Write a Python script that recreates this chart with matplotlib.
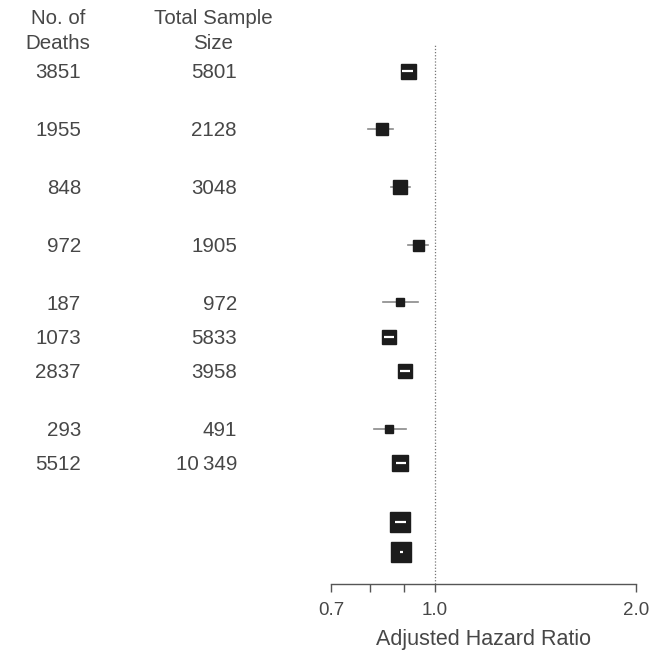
import matplotlib
matplotlib.use('Agg')
import matplotlib.pyplot as plt
from matplotlib.ticker import FixedLocator, NullFormatter
from matplotlib.transforms import blended_transform_factory

plt.rcParams['font.family'] = ['Liberation Sans', 'DejaVu Sans']

# rows: 9 studies + 2 pooled estimates
deaths = ['3851', '1955', '848', '972', '187', '1073', '2837', '293', '5512']
sample = ['5801', '2128', '3048', '1905', '972', '5833', '3958', '491', '10\u2009349']
hr = [0.911, 0.833, 0.889, 0.943, 0.889, 0.856, 0.902, 0.856, 0.889, 0.889, 0.892]
lo = [0.893, 0.796, 0.862, 0.914, 0.836, 0.838, 0.886, 0.813, 0.877, 0.872, 0.887]
hi = [0.930, 0.868, 0.920, 0.976, 0.943, 0.875, 0.918, 0.905, 0.905, 0.905, 0.897]
weight = [15, 12, 14, 11, 8, 14, 14, 8, 16, 20, 20]   # box side, px

# vertical layout of the rows (pixel rows of the figure)
row_y = [71, 129, 187, 245, 302, 337, 371, 429, 463, 522, 552]

txt_c = '#474747'
fs = 14.8
fig = plt.figure(figsize=(6.70, 6.54), dpi=100)
ax = fig.add_axes([331 / 670, 1 - 584 / 654, (636 - 331) / 670, (584 - 45) / 654])
ax.set_xscale('log')
ax.set_xlim(0.7, 2.0)
ax.set_ylim(584, 45)

for s in ['top', 'right', 'left']:
    ax.spines[s].set_visible(False)
ax.spines['bottom'].set_color('#555555')
ax.spines['bottom'].set_linewidth(1.0)
ax.set_yticks([])
ax.xaxis.set_major_locator(FixedLocator([0.7, 1.0, 2.0]))
ax.xaxis.set_minor_locator(FixedLocator([0.8, 0.9]))
ax.xaxis.set_minor_formatter(NullFormatter())
ax.set_xticklabels(['0.7', '1.0', '2.0'])
ax.tick_params(axis='x', which='both', direction='out', length=6, width=1.0,
               color='#555555', labelsize=13.5, labelcolor=txt_c, pad=7)
ax.set_xlabel('Adjusted Hazard Ratio', fontsize=15.5, color=txt_c, labelpad=7)

ax.axvline(1.0, color='#777777', lw=0.9, linestyle=(0, (1, 1.5)), zorder=0)

fig.canvas.draw()
inv = ax.transData.inverted()
for i in range(len(hr)):
    y = row_y[i]
    ax.plot([lo[i], hi[i]], [y, y], color='#8a8a8a', lw=1.2, zorder=1)
    ax.plot([hr[i]], [y], marker='s', markersize=weight[i] * 0.72,
            color='#1c1c1c', linestyle='none', zorder=2)
    # CI fully hidden by the box: show it as a white bar inside
    cx, cy = ax.transData.transform((hr[i], y))
    half = weight[i] / 2
    px_lo = ax.transData.transform((lo[i], y))[0]
    px_hi = ax.transData.transform((hi[i], y))[0]
    if px_lo >= cx - half and px_hi <= cx + half:
        px_lo = max(px_lo, cx - half + 2)
        px_hi = min(px_hi, cx + half - 2)
        xl = inv.transform((px_lo, cy))[0]
        xh = inv.transform((max(px_hi, px_lo + 2), cy))[0]
        ax.plot([xl, xh], [y, y], color='white', lw=1.6, zorder=3,
                solid_capstyle='butt')

tr = blended_transform_factory(fig.transFigure, ax.transData)
fig.text(58 / 670, 1 - 9 / 654, 'No. of\nDeaths', ha='center', va='top',
         fontsize=fs, color=txt_c, linespacing=1.42)
fig.text(213 / 670, 1 - 9 / 654, 'Total Sample\nSize', ha='center', va='top',
         fontsize=fs, color=txt_c, linespacing=1.42)
for i in range(len(deaths)):
    ax.text(81 / 670, row_y[i], deaths[i], transform=tr, ha='right',
            va='center_baseline', fontsize=fs, color=txt_c, clip_on=False)
    ax.text(237 / 670, row_y[i], sample[i], transform=tr, ha='right',
            va='center_baseline', fontsize=fs, color=txt_c, clip_on=False)

fig.savefig('out.png', dpi=100)
